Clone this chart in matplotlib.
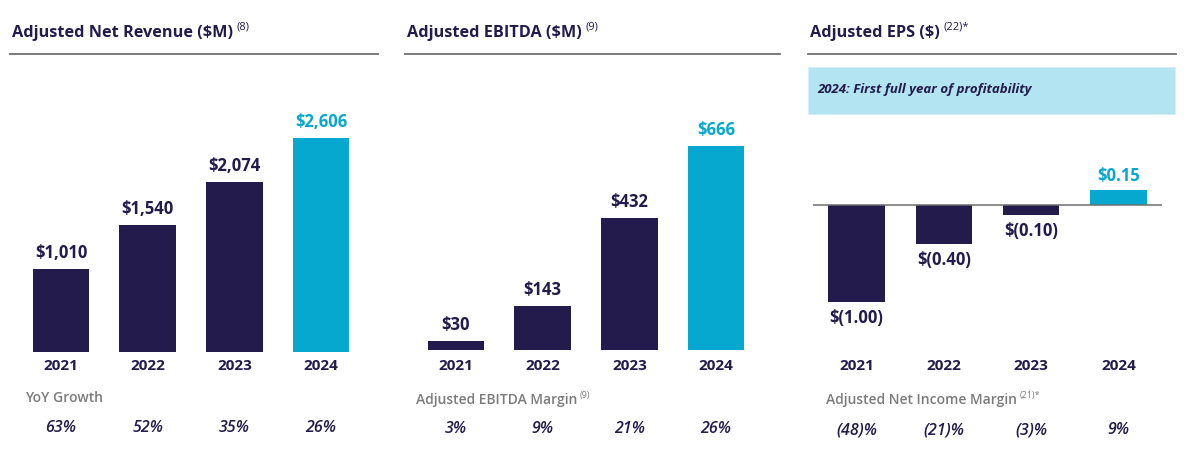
import matplotlib
matplotlib.use("Agg")
import matplotlib.pyplot as plt
from matplotlib.patches import Rectangle
from matplotlib.lines import Line2D
from matplotlib.transforms import blended_transform_factory

plt.rcParams["font.family"] = ["Open Sans", "DejaVu Sans"]

W, H = 1200, 469
NAVY = "#221b4b"
CYAN = "#07a8cf"
GRAY = "#7b7b7b"

years = ["2021", "2022", "2023", "2024"]
revenue = [1010, 1540, 2074, 2606]
revenue_labels = ["$1,010", "$1,540", "$2,074", "$2,606"]
yoy_growth = ["63%", "52%", "35%", "26%"]
ebitda = [30, 143, 432, 666]
ebitda_labels = ["$30", "$143", "$432", "$666"]
ebitda_margin = ["3%", "9%", "21%", "26%"]
eps = [-1.00, -0.40, -0.10, 0.15]
eps_labels = ["$(1.00)", "$(0.40)", "$(0.10)", "$0.15"]
net_income_margin = ["(48)%", "(21)%", "(3)%", "9%"]


def fx(x):
    return x / W


def fy(y):
    return 1 - y / H


def esc(s):
    return s.replace("$", r"\$")


fig = plt.figure(figsize=(12, 4.69), dpi=100)
fig.patch.set_facecolor("white")
renderer = fig.canvas.get_renderer()


def header(x0, x1, title, sup):
    t = fig.text(fx(x0 + 2), fy(33), esc(title), fontsize=11.7, fontweight="bold",
                 color=NAVY, va="center", ha="left")
    bb = t.get_window_extent(renderer)
    fig.text(bb.x1 / W + 0.003, fy(27), sup, fontsize=8, color=NAVY,
             va="center", ha="left")
    fig.add_artist(Line2D([fx(x0), fx(x1)], [fy(54), fy(54)], color="#6e6e6e",
                          lw=1.3, transform=fig.transFigure))


def panel(left, right, bottom_px, top_px, ylim):
    ax = fig.add_axes([fx(left), fy(bottom_px), fx(right) - fx(left),
                       (bottom_px - top_px) / H])
    ax.set_xlim(-0.5, 3.5)
    ax.set_ylim(*ylim)
    ax.axis("off")
    return ax


def footer(ax, sub, sub_x, sub_sup, values, year_y=366, sub_y=398, val_y=428):
    tr = blended_transform_factory(ax.transData, fig.transFigure)
    for i, yr in enumerate(years):
        ax.text(i, fy(year_y), yr, transform=tr, ha="center", va="center",
                fontsize=11, fontweight="bold", color=NAVY)
        ax.text(i, fy(val_y), values[i], transform=tr, ha="center", va="center",
                fontsize=11.5, fontstyle="italic", fontweight="semibold", color=NAVY)
    t = fig.text(fx(sub_x), fy(sub_y), sub, fontsize=10, fontweight="semibold",
                 color=GRAY, va="center", ha="left")
    if sub_sup:
        bb = t.get_window_extent(renderer)
        fig.text(bb.x1 / W + 0.002, fy(sub_y - 5), sub_sup, fontsize=6.5,
                 color=GRAY, va="center", ha="left")


colors = [NAVY, NAVY, NAVY, CYAN]
x = range(len(years))

# Panel 1: revenue
header(10, 378, "Adjusted Net Revenue ($M)", "(8)")
ax1 = panel(17.6, 364.4, 352, 100, (0, 252 / 0.0822))
ax1.bar(x, revenue, width=0.65, color=colors)
for i, v in enumerate(revenue):
    ax1.annotate(esc(revenue_labels[i]), (i, v), xytext=(0, 5), textcoords="offset points",
                 ha="center", va="bottom", fontsize=12, fontweight="bold", color=colors[i])
footer(ax1, "YoY Growth", 25, None, yoy_growth)

# Panel 2: EBITDA
header(405, 780, "Adjusted EBITDA ($M)", "(9)")
ax2 = panel(412.6, 759.4, 350, 100, (0, 250 / 0.306))
ax2.bar(x, ebitda, width=0.65, color=colors)
for i, v in enumerate(ebitda):
    ax2.annotate(esc(ebitda_labels[i]), (i, v), xytext=(0, 5), textcoords="offset points",
                 ha="center", va="bottom", fontsize=12, fontweight="bold", color=colors[i])
footer(ax2, "Adjusted EBITDA Margin", 416, "(9)", ebitda_margin, sub_y=400, val_y=429)

# Panel 3: EPS
header(808, 1176, "Adjusted EPS ($)", "(22)*")
fig.add_artist(Rectangle((fx(808), fy(114)), fx(1175) - fx(808), (114 - 67) / H,
                         transform=fig.transFigure, facecolor="#b3e4f1",
                         edgecolor="#d6eef5", lw=0.8))
fig.text(fx(817), fy(90), "2024: First full year of profitability", fontsize=9.5,
         fontweight="bold", fontstyle="italic", color=NAVY, va="center", ha="left")
ax3 = panel(813, 1162, 320, 180, (-115 / 97, 25 / 97))
ax3.bar(x, eps, width=0.65, color=colors)
ax3.axhline(0, color="#6e6e6e", lw=1.1)
for i, v in enumerate(eps):
    off = 4 if v > 0 else -5
    ax3.annotate(esc(eps_labels[i]), (i, v), xytext=(0, off), textcoords="offset points",
                 ha="center", va="bottom" if v > 0 else "top", fontsize=12,
                 fontweight="bold", color=colors[i])
footer(ax3, "Adjusted Net Income Margin", 826, "(21)*", net_income_margin,
       sub_y=400, val_y=430)

fig.savefig("out.png", dpi=100, facecolor="white")
